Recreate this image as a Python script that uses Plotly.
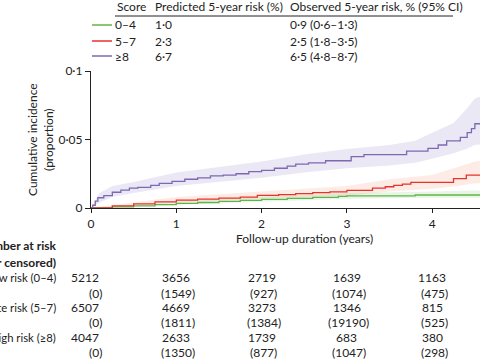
import plotly.graph_objects as go

# ---------------- data ----------------
hi_t = [0, 0.02, 0.05, 0.08, 0.15, 0.25, 0.35, 0.45, 0.55, 0.7, 0.8, 0.95, 1.1, 1.25, 1.4, 1.55, 1.7, 1.85, 2.0,
        2.15, 2.3, 2.4, 2.55, 2.75, 3.05, 3.2, 3.7, 3.95, 4.07, 4.17, 4.33, 4.41, 4.46, 4.5, 4.7]
hi_v = [0, 0.002, 0.005, 0.0075, 0.009, 0.0115, 0.013, 0.0145, 0.015, 0.0165, 0.018, 0.0195, 0.021, 0.022, 0.0235,
        0.024, 0.025, 0.0265, 0.0275, 0.029, 0.0305, 0.032, 0.033, 0.0345, 0.0375, 0.039, 0.0415, 0.0435, 0.046,
        0.049, 0.0515, 0.055, 0.058, 0.0615, 0.0615]
hi_band_t = [0, 0.1, 0.25, 0.5, 1, 1.5, 2, 2.5, 3, 3.5, 3.8, 4, 4.25, 4.4, 4.5, 4.7]
hi_upper = [0, 0.011, 0.016, 0.019, 0.026, 0.030, 0.034, 0.039, 0.043, 0.046, 0.049, 0.055, 0.062, 0.072, 0.080, 0.084]
hi_lower = [0, 0.004, 0.008, 0.011, 0.016, 0.019, 0.022, 0.026, 0.029, 0.031, 0.033, 0.036, 0.040, 0.043, 0.046, 0.047]

mid_t = [0, 0.25, 0.5, 0.75, 1.0, 1.25, 1.5, 1.75, 1.95, 2.2, 2.4, 2.6, 2.8, 3.0, 3.3, 3.45, 3.55, 3.65, 3.75,
         4.25, 4.4, 4.7]
mid_v = [0, 0.0015, 0.003, 0.0045, 0.0058, 0.0065, 0.0072, 0.008, 0.0092, 0.0098, 0.0105, 0.0112, 0.0118, 0.0128,
         0.0145, 0.0155, 0.0165, 0.0175, 0.0187, 0.0215, 0.024, 0.024]
mid_band_t = [0, 1, 2, 3, 3.5, 4, 4.3, 4.5, 4.7]
mid_upper = [0, 0.008, 0.012, 0.016, 0.021, 0.024, 0.030, 0.034, 0.035]
mid_lower = [0, 0.004, 0.007, 0.009, 0.012, 0.014, 0.016, 0.018, 0.018]

low_t = [0, 0.25, 0.5, 0.75, 1.0, 1.25, 1.5, 1.75, 2.0, 2.3, 2.6, 2.9, 3.0, 3.8, 4.7]
low_v = [0, 0.0008, 0.0015, 0.0025, 0.0034, 0.004, 0.0048, 0.0055, 0.0063, 0.007, 0.0078, 0.0085, 0.0089,
         0.0095, 0.0095]
low_band_t = [0, 1, 2, 3, 4, 4.7]
low_upper = [0, 0.0045, 0.008, 0.011, 0.012, 0.013]
low_lower = [0, 0.0024, 0.0048, 0.0068, 0.0074, 0.0075]

score_labels = ["0–4", "5–7", "≥8"]
predicted = ["1·0", "2·3", "6·7"]
observed = ["0·9 (0·6–1·3)", "2·5 (1·8–3·5)", "6·5 (4·8–8·7)"]

y_tickvals = [0, 0.05, 0.1]
y_ticktext = ["0", "0·05", "0·1"]
x_tickvals = [0, 1, 2, 3, 4, 5]
x_ticktext = ["0", "1", "2", "3", "4", "5"]

risk_times = [0, 1, 2, 3, 4]
risk_groups = ["Low risk (0–4)", "Intermediate risk (5–7)", "High risk (≥8)"]
at_risk = [[5212, 3656, 2719, 1639, 1163],
           [6507, 4669, 3273, 1346, 815],
           [4047, 2633, 1739, 683, 380]]
censored = [[0, 1549, 927, 1074, 475],
            [0, 1811, 1384, 19190, 525],
            [0, 1350, 877, 1047, 298]]

# ---------------- style ----------------
FONT = "Lato"
C_LOW, C_MID, C_HI = "#5fb548", "#e8322a", "#7c68b3"
F_LOW, F_MID, F_HI = "rgba(110,190,90,0.16)", "rgba(240,110,80,0.14)", "rgba(130,110,190,0.16)"

W, H = 480, 360
L, R, T, B = 91, 0, 71, 152
PW, PH = W - L - R, H - T - B


def px(xp):
    return (xp - L) / PW


def py(yp):
    return (H - B - yp) / PH


fig = go.Figure()


def band(t, lo, up, fill):
    fig.add_trace(go.Scatter(x=t, y=lo, mode="lines", line=dict(width=0),
                             hoverinfo="skip", showlegend=False))
    fig.add_trace(go.Scatter(x=t, y=up, mode="lines", line=dict(width=0),
                             fill="tonexty", fillcolor=fill, hoverinfo="skip", showlegend=False))


band(hi_band_t, hi_lower, hi_upper, F_HI)
band(mid_band_t, mid_lower, mid_upper, F_MID)
band(low_band_t, low_lower, low_upper, F_LOW)

for t, v, c in [(low_t, low_v, C_LOW), (mid_t, mid_v, C_MID), (hi_t, hi_v, C_HI)]:
    fig.add_trace(go.Scatter(x=t, y=v, mode="lines", line=dict(color=c, width=1.3, shape="hv"),
                             showlegend=False))

ann = []
shapes = []
fs = 12

# header table
hy = 7
ann.append(dict(x=px(115), y=py(hy), text="Score", xanchor="left", yanchor="middle"))
ann.append(dict(x=px(153), y=py(hy), text="Predicted 5-year risk (%)", xanchor="left", yanchor="middle"))
ann.append(dict(x=px(288), y=py(hy), text="Observed 5-year risk, % (95% CI)", xanchor="left", yanchor="middle"))
shapes.append(dict(type="line", xref="paper", yref="paper", x0=px(115), x1=px(453), y0=py(16), y1=py(16),
                   line=dict(color="#222", width=1)))
row_y = [25, 41, 56]
for i, (c, s) in enumerate(zip([C_LOW, C_MID, C_HI], score_labels)):
    shapes.append(dict(type="line", xref="paper", yref="paper", x0=px(92), x1=px(112), y0=py(row_y[i]),
                       y1=py(row_y[i]), line=dict(color=c, width=1.5)))
    ann.append(dict(x=px(113), y=py(row_y[i]), text=s, xanchor="left", yanchor="middle"))
    ann.append(dict(x=px(153), y=py(row_y[i]), text=predicted[i], xanchor="left", yanchor="middle"))
    ann.append(dict(x=px(288), y=py(row_y[i]), text=observed[i], xanchor="left", yanchor="middle"))

# axis titles
ann.append(dict(x=px(40), y=py(140), text="Cumulative incidence<br>(proportion)", textangle=-90,
                xanchor="center", yanchor="middle"))
ann.append(dict(x=2.5, xref="x", y=py(238), text="Follow-up duration (years)", xanchor="center",
                yanchor="middle"))

# number at risk table
lab_right = px(58)
ann.append(dict(x=lab_right, y=py(245), text="<b>Number at risk</b>", xanchor="right", yanchor="middle"))
ann.append(dict(x=lab_right, y=py(262), text="<b>(number censored)</b>", xanchor="right", yanchor="middle"))
grp_y = [(277, 293), (307, 322), (337, 352)]
for g in range(3):
    ya, yc = grp_y[g]
    ann.append(dict(x=lab_right, y=py(ya), text=risk_groups[g], xanchor="right", yanchor="middle",
                    size=11.3))
    for j, t in enumerate(risk_times):
        if j == 0:
            ann.append(dict(x=t, xref="x", y=py(ya), text=str(at_risk[g][j]), xanchor="right",
                            yanchor="middle", xshift=10))
            ann.append(dict(x=t, xref="x", y=py(yc), text="(" + str(censored[g][j]) + ")", xanchor="right",
                            yanchor="middle", xshift=13))
        else:
            ann.append(dict(x=t, xref="x", y=py(ya), text=str(at_risk[g][j]), xanchor="center",
                            yanchor="middle", xshift=0))
            ann.append(dict(x=t, xref="x", y=py(yc), text="(" + str(censored[g][j]) + ")", xanchor="center",
                            yanchor="middle", xshift=2))

for a in ann:
    a.setdefault("xref", "paper")
    a.setdefault("yref", "paper")
    a["showarrow"] = False
    size = a.pop("size", fs)
    a["font"] = dict(family=FONT, size=size, color="#222")

fig.update_layout(
    width=W, height=H,
    margin=dict(l=L, r=R, t=T, b=B),
    paper_bgcolor="white", plot_bgcolor="white",
    font=dict(family=FONT, size=fs, color="#222"),
    annotations=ann, shapes=shapes, showlegend=False,
    xaxis=dict(range=[0, PW / 85.3], tickvals=x_tickvals, ticktext=x_ticktext, showgrid=False, zeroline=False,
               showline=True, linecolor="#222", linewidth=1.3, ticks="outside", ticklen=4, tickcolor="#222",
               tickfont=dict(family=FONT, size=12, color="#222")),
    yaxis=dict(range=[0, 0.1], tickvals=y_tickvals, ticktext=y_ticktext, showgrid=False, zeroline=False,
               showline=True, linecolor="#222", linewidth=1.3, ticks="outside", ticklen=5, tickcolor="#222",
               tickfont=dict(family=FONT, size=12, color="#222")),
)

fig.write_html("out.html", config={"displayModeBar": False},
               post_script="document.body.style.margin='0';document.body.style.overflow='hidden';")
